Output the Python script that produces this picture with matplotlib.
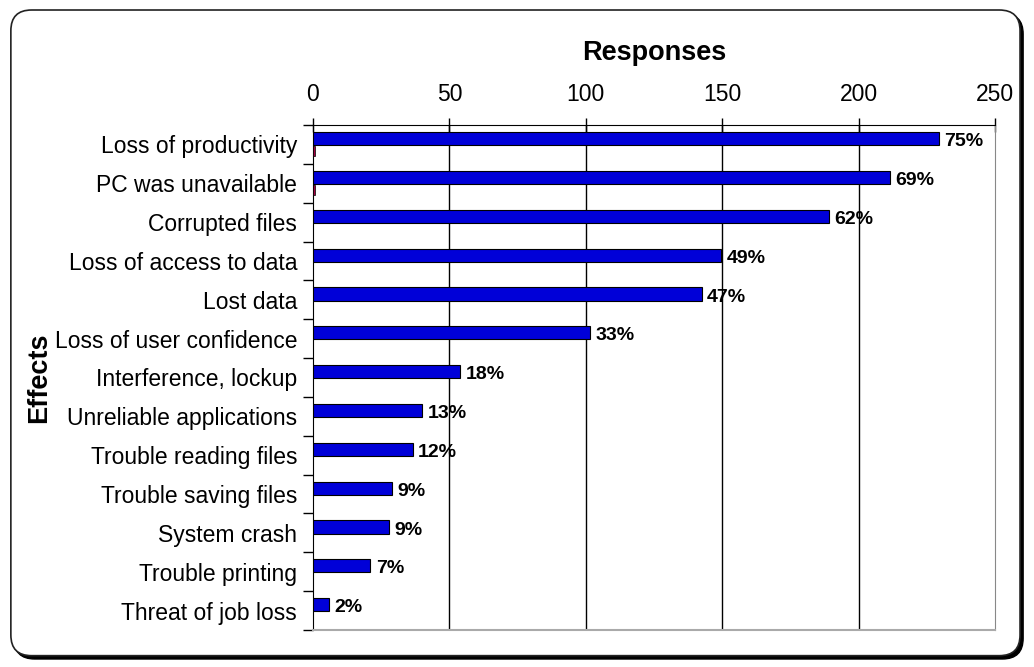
import matplotlib.pyplot as plt
import numpy as np
from matplotlib.patches import FancyBboxPatch

plt.rcParams['font.family'] = ['Liberation Sans', 'DejaVu Sans']

# data
effects = ['Loss of productivity', 'PC was unavailable', 'Corrupted files',
           'Loss of access to data', 'Lost data', 'Loss of user confidence',
           'Interference, lockup', 'Unreliable applications',
           'Trouble reading files', 'Trouble saving files', 'System crash',
           'Trouble printing', 'Threat of job loss']
responses = [229.5, 211.5, 189, 149.5, 142.5, 101.5, 54, 40, 36.5, 29, 28, 21, 6]
other = [0.8, 0.8, 0, 0, 0, 0, 0, 0, 0, 0, 0, 0, 0]
pct_labels = ['75%', '69%', '62%', '49%', '47%', '33%', '18%', '13%',
              '12%', '9%', '9%', '7%', '2%']

fig = plt.figure(figsize=(10.34, 6.67), dpi=100)

# rounded frame with shadow
shadow = FancyBboxPatch((0.0135, 0.012), 0.976, 0.968,
                        boxstyle='round,pad=0,rounding_size=0.02',
                        transform=fig.transFigure, facecolor='black',
                        edgecolor='black', mutation_aspect=1034/667, zorder=-2)
frame = FancyBboxPatch((0.0105, 0.017), 0.976, 0.968,
                       boxstyle='round,pad=0,rounding_size=0.02',
                       transform=fig.transFigure, facecolor='white',
                       edgecolor='#222222', lw=1.2, mutation_aspect=1034/667, zorder=-1)
fig.patches.extend([shadow, frame])

ax = fig.add_axes([0.3027, 0.0555, 0.6596, 0.7571])
ax.set_facecolor('none')

y = np.arange(len(effects))
ax.barh(y - 0.15, responses, height=0.34, color='#0000D8', edgecolor='black', lw=0.8, zorder=3)
ax.barh(y + 0.18, other, height=0.26, color='#A00040', edgecolor='black', lw=0.5, zorder=3)

for yi, v, t in zip(y, responses, pct_labels):
    ax.text(v + 2, yi - 0.07, t, va='center', ha='left', fontsize=14,
            fontweight='bold', zorder=4)

ax.set_xlim(0, 250)
ax.set_ylim(len(effects) - 0.5, -0.5)
ax.set_xticks([0, 50, 100, 150, 200, 250])
ax.xaxis.tick_top()
ax.xaxis.set_label_position('top')
ax.tick_params(axis='x', direction='inout', length=10, labelsize=16.5, pad=9, width=1)
ax.set_yticks(y)
ax.set_yticklabels(effects, fontsize=16.5)
ax.set_yticks(np.arange(len(effects) + 1) - 0.5, minor=True)
ax.tick_params(axis='y', which='major', length=0, pad=11.5)
ax.tick_params(axis='y', which='minor', length=7, width=1, direction='out')

for gx in [50, 100, 150, 200]:
    ax.axvline(gx, color='black', lw=1, zorder=1)

ax.spines['left'].set_color('black')
ax.spines['top'].set_color('black')
ax.spines['right'].set_color('#888888')
ax.spines['bottom'].set_color('#aaaaaa')
ax.spines['bottom'].set_linewidth(1.5)

ax.set_xlabel('Responses', fontsize=19.5, fontweight='bold', labelpad=16)
ax.set_ylabel('Effects', fontsize=19.5, fontweight='bold', labelpad=2)

fig.savefig('out.png', dpi=100)
